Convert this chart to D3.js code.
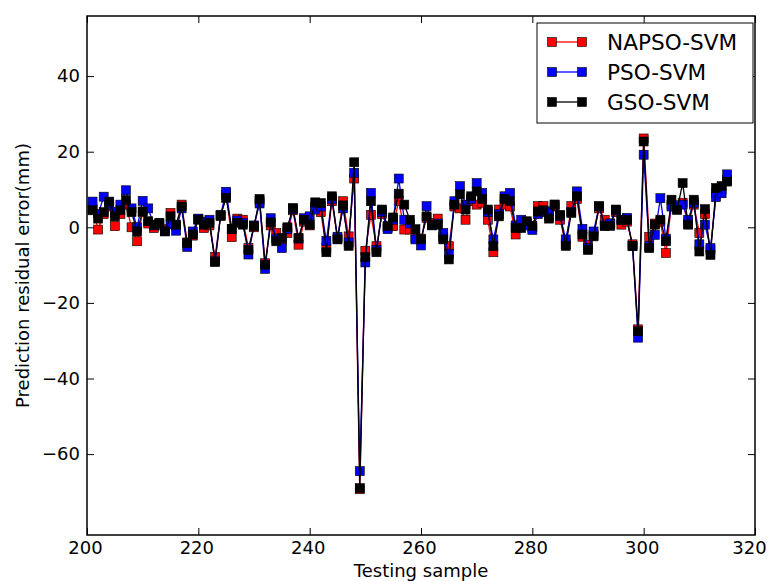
<!DOCTYPE html>
<html><head><meta charset="utf-8">
<script src="https://cdn.jsdelivr.net/npm/d3@7/dist/d3.min.js"></script>
<style>body{margin:0;background:#fff}svg{display:block}text{font-family:"DejaVu Sans",sans-serif}</style>
</head><body>
<script>
const samples = d3.range(201, 316);
const napso = [5.0,-0.6,3.5,5.5,0.3,3.5,6.0,0.0,-3.7,4.0,1.0,-0.2,0.5,-0.5,3.8,0.5,6.0,-4.0,-2.2,2.2,
-0.2,0.5,-7.8,3.0,8.5,-2.6,2.3,2.0,-5.5,0.0,7.0,-9.5,0.5,-1.5,-3.5,-1.5,4.5,-4.6,1.5,0.5,
5.5,4.0,-5.5,6.9,-3.0,6.9,-2.4,12.9,-69.3,-6.2,3.3,-5.0,3.5,0.0,0.3,7.0,-0.6,-0.6,-2.8,-3.0,
2.5,1.2,2.3,-2.5,-5.0,5.5,5.0,2.0,6.9,6.0,6.5,2.0,-6.6,4.7,6.0,5.5,-1.9,0.5,1.0,0.0,
5.6,5.6,3.0,5.5,2.0,-4.5,5.6,7.5,-2.5,-4.6,-2.0,5.0,2.0,1.0,4.0,0.7,1.5,-4.5,-27.0,23.5,
-2.5,1.0,1.5,-6.8,6.0,5.0,6.5,1.0,6.0,-1.5,3.5,-6.0,9.0,10.0,12.5];
const pso = [6.8,3.5,8.1,6.0,4.0,6.0,9.8,5.0,0.0,7.0,5.0,0.5,1.0,-1.0,0.8,-0.9,5.0,-5.2,-1.1,2.3,
1.5,2.0,-9.0,3.3,9.4,-0.5,1.8,1.2,-7.2,0.5,6.3,-11.0,2.4,-3.0,-5.5,-0.5,4.8,-3.0,2.4,2.9,
4.7,5.5,-3.6,7.5,-2.5,5.0,-4.0,14.4,-64.5,-9.3,9.1,-6.0,4.0,-0.5,2.0,12.9,2.0,1.0,-3.2,-4.8,
5.6,0.5,1.0,-1.5,-7.0,6.9,10.9,6.0,7.5,11.7,9.1,4.0,-3.2,3.5,8.2,9.1,0.5,2.0,0.5,-0.7,
3.5,4.0,4.2,6.0,3.0,-3.2,4.0,9.5,-0.4,-5.5,-1.1,5.5,0.5,1.0,4.5,2.0,2.5,-5.0,-29.2,19.2,
-5.0,-2.0,7.7,-3.0,5.5,5.8,6.0,2.0,6.5,-4.5,0.7,-5.5,8.0,9.0,14.0];
const gso = [4.5,2.3,4.0,6.8,2.9,4.5,7.2,4.0,-1.1,4.2,1.6,0.7,1.2,-1.1,2.9,0.7,5.5,-4.2,-1.9,2.0,
0.7,1.2,-9.2,3.1,7.8,-0.4,1.2,0.7,-6.0,0.3,7.5,-9.9,1.3,-3.7,-2.8,0.0,5.1,-2.8,2.0,0.7,
6.6,6.4,-6.6,8.2,-3.2,5.8,-4.9,17.2,-69.0,-7.9,6.9,-6.6,4.7,0.3,2.6,8.9,6.0,2.0,-0.5,-3.2,
2.9,0.7,0.7,-3.2,-8.5,6.0,8.7,4.7,8.2,9.5,7.5,4.7,-5.0,2.9,7.5,6.9,-0.2,-0.2,1.6,0.4,
4.2,4.5,2.3,6.0,3.3,-4.9,3.8,8.2,-1.9,-6.0,-2.4,5.6,0.3,0.4,4.7,2.0,2.0,-4.9,-27.5,22.7,
-5.5,0.7,2.0,-3.7,7.3,4.6,11.7,0.7,7.3,-6.4,4.8,-7.3,10.4,10.9,12.1];
const seriesNames = ["NAPSO-SVM","PSO-SVM","GSO-SVM"];
const seriesColors = ["#ff0000","#0000ff","#000000"];
const xTicks = [200,220,240,260,280,300,320];
const yTicks = [-60,-40,-20,0,20,40];

const W=769,H=581, L=87, R=755, T=16, B=535;
const svg=d3.select("body").append("svg").attr("width",W).attr("height",H);
const x=d3.scaleLinear().domain([200,320]).range([L,R]);
const zeroY=227.3, pxPerUnit=3.78;
const y=d3.scaleLinear().domain([(zeroY-B)/pxPerUnit,(zeroY-T)/pxPerUnit]).range([B,T]);
const fmt=d=>String(d).replace("-","\u2212");

const data=[napso,pso,gso];
data.forEach((vals,i)=>{
  const pts=samples.map((s,j)=>[s,vals[j]]);
  svg.append("path").attr("d",d3.line().x(d=>x(d[0])).y(d=>y(d[1]))(pts))
    .attr("fill","none").attr("stroke",seriesColors[i]).attr("stroke-width",1.3);
  svg.append("g").selectAll("rect").data(pts).join("rect")
    .attr("x",d=>x(d[0])-4.5).attr("y",d=>y(d[1])-4.5).attr("width",9).attr("height",9)
    .attr("fill",seriesColors[i]).attr("stroke","#000").attr("stroke-width",0.6);
});

// axes with inward ticks on all sides
const tl=7;
const gx=svg.append("g").attr("transform",`translate(0,${B})`).call(d3.axisBottom(x).tickValues(xTicks).tickSize(-tl).tickPadding(6).tickFormat(fmt))
  .call(g=>g.select(".domain").remove());
gx.selectAll(".tick text").attr("dx",(d,i)=>d===320?-6:-2);
svg.append("g").attr("transform",`translate(0,${T})`).call(d3.axisTop(x).tickValues(xTicks).tickSize(-tl).tickFormat(""))
  .call(g=>g.select(".domain").remove());
svg.append("g").attr("transform",`translate(${L},0)`).call(d3.axisLeft(y).tickValues(yTicks).tickSize(-tl).tickPadding(7).tickFormat(fmt))
  .call(g=>g.select(".domain").remove());
svg.append("g").attr("transform",`translate(${R},0)`).call(d3.axisRight(y).tickValues(yTicks).tickSize(-tl).tickFormat(""))
  .call(g=>g.select(".domain").remove());
svg.selectAll(".tick line").attr("stroke","#000").attr("stroke-width",1);
svg.selectAll(".tick text").attr("font-size",18).attr("fill","#000").attr("font-family","DejaVu Sans");
svg.append("rect").attr("x",L).attr("y",T).attr("width",R-L).attr("height",B-T)
  .attr("fill","none").attr("stroke","#000").attr("stroke-width",1.5);

svg.append("text").attr("x",(L+R)/2).attr("y",577).attr("text-anchor","middle").attr("font-size",18).text("Testing sample");
svg.append("text").attr("transform",`translate(29,${(T+B)/2}) rotate(-90)`).attr("text-anchor","middle").attr("font-size",18).text("Prediction residual error(mm)");

// legend
const lg=svg.append("g");
lg.append("rect").attr("x",537).attr("y",23).attr("width",216).attr("height",100)
  .attr("fill","#fff").attr("stroke","#000").attr("stroke-width",1);
seriesNames.forEach((n,i)=>{
  const yy=42+i*30;
  lg.append("line").attr("x1",552).attr("x2",582).attr("y1",yy).attr("y2",yy).attr("stroke",seriesColors[i]).attr("stroke-width",1.3);
  [552,582].forEach(xx=>lg.append("rect").attr("x",xx-4.5).attr("y",yy-4.5).attr("width",9).attr("height",9)
    .attr("fill",seriesColors[i]).attr("stroke","#000").attr("stroke-width",0.6));
  lg.append("text").attr("x",607).attr("y",yy).attr("dy","0.36em").attr("font-size",21.6).text(n);
});
</script>
</body></html>
